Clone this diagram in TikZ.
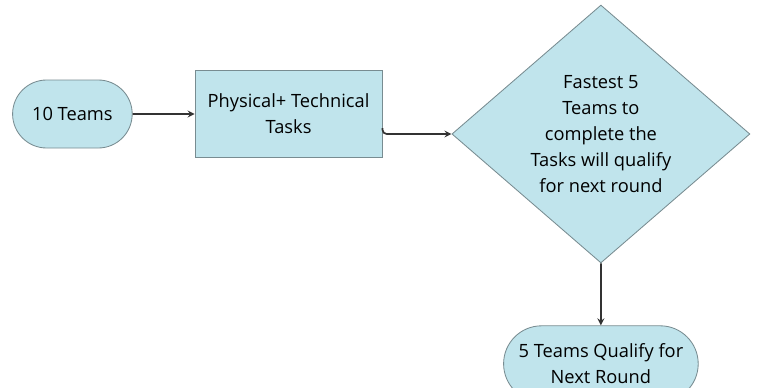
\documentclass[tikz,border=0pt]{standalone}
\usepackage{fontspec}
\setmainfont{Open Sans}
\usetikzlibrary{positioning,shapes.geometric,shapes.misc}

\definecolor{boxblue}{RGB}{192,228,236}
\definecolor{boxline}{RGB}{120,140,145}

\begin{document}
\begin{tikzpicture}[auto,
    every node/.style={font=\fontsize{13}{18.5}\selectfont, align=center},
    term/.style={rounded rectangle, draw=boxline, fill=boxblue, line width=0.6pt},
    task/.style={rectangle, draw=boxline, fill=boxblue, line width=0.6pt},
    choice/.style={diamond, draw=boxline, fill=boxblue, line width=0.6pt, inner sep=0pt},
    flow/.style={->, >=stealth, line width=1.2pt, draw=black!80}]
          \useasboundingbox (0,0) rectangle (19.05,-9.7);

          \node (teams) [term, minimum width=3.225cm, minimum height=1.7cm]
                at (1.81,-2.85)                              {10 Teams};
          \node (tasks) [task, minimum width=4.675cm, minimum height=2.175cm,
                right=1.55cm of teams]                       {Physical+ Technical\\Tasks};
          \node (fast)  [choice, minimum width=7.45cm, minimum height=6.225cm,
                right=1.725cm of tasks, yshift=-0.5cm]
                {Fastest 5\\Teams to\\complete the\\Tasks will qualify\\for next round};
          \node (next)  [term, minimum width=5.1cm, minimum height=1.9cm,
                below=1.55cm of fast]                        {5 Teams Qualify for\\Next Round};

          \draw [flow] (teams) to (tasks);
          \draw [flow, rounded corners=3pt] ([yshift=-0.35cm]tasks.east) |- (fast.west);
          \draw [flow] (fast) to (next);
        \end{tikzpicture}
\end{document}
